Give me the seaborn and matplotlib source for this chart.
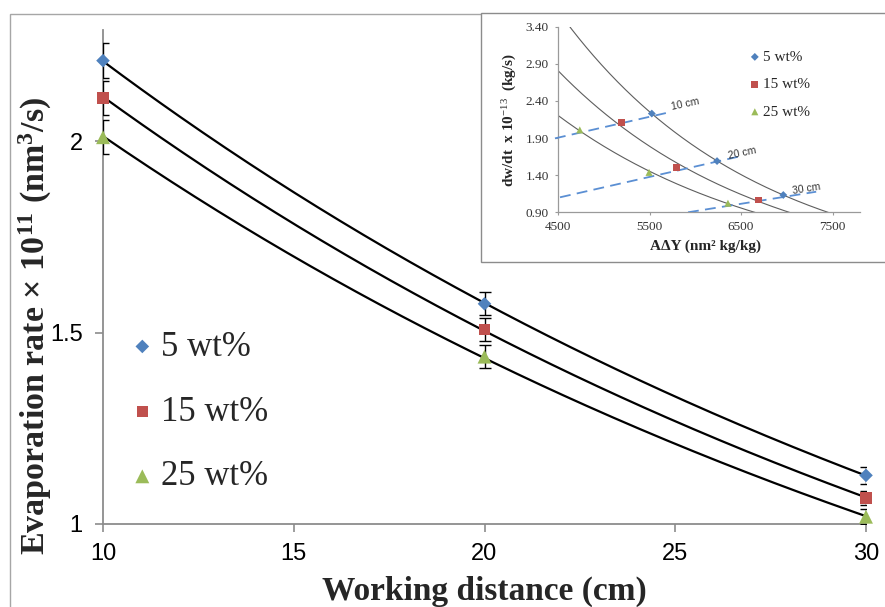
import numpy as np
import pandas as pd
import matplotlib
matplotlib.use("Agg")
import matplotlib.pyplot as plt
import seaborn as sns
from matplotlib.patches import Rectangle

# ---------------- data ----------------
series = ["5 wt%", "15 wt%", "25 wt%"]
colors = ["#4F81BD", "#C0504D", "#9BBB59"]
markers = ["D", "s", "^"]

distance = [10, 20, 30]
rate_5 = [2.21, 1.575, 1.127]
rate_15 = [2.113, 1.508, 1.068]
rate_25 = [2.01, 1.437, 1.019]
err_5 = [0.045, 0.03, 0.022]
err_15 = [0.045, 0.03, 0.018]
err_25 = [0.045, 0.03, 0.02]

x_ticks = [10, 15, 20, 25, 30]
y_ticks = [1, 1.5, 2]

# inset
inset_dY_5 = [5525, 6238, 6962]
inset_rate_5 = [2.23, 1.59, 1.133]
inset_dY_15 = [5192, 5793, 6690]
inset_rate_15 = [2.112, 1.50, 1.066]
inset_dY_25 = [4738, 5495, 6357]
inset_rate_25 = [2.01, 1.438, 1.022]

guide_labels = ["10 cm", "20 cm", "30 cm"]
guide_10_x = [4467, 5740]
guide_10_y = [1.896, 2.254]
guide_20_x = [4522, 6503]
guide_20_y = [1.102, 1.658]
guide_30_x = [5921, 7321]
guide_30_y = [0.90, 1.177]

inset_x_ticks = [4500, 5500, 6500, 7500]
inset_y_ticks = [0.90, 1.40, 1.90, 2.40, 2.90, 3.40]

# ---------------- style ----------------
sns.set_style("white")
plt.rcParams["font.family"] = ["Liberation Serif", "DejaVu Serif"]
plt.rcParams["mathtext.fontset"] = "custom"
plt.rcParams["mathtext.rm"] = "Liberation Serif"
plt.rcParams["mathtext.bf"] = "Liberation Serif:bold"
plt.rcParams["mathtext.it"] = "Liberation Serif:italic"

W, H = 885, 607
fig = plt.figure(figsize=(W / 100, H / 100), dpi=100)

# outer chart border
fig.patches.append(Rectangle((10 / W, -0.1), 1.2, 1 - 14 / H + 0.1,
                             transform=fig.transFigure, fill=False,
                             ec="#A6A6A6", lw=1.0, zorder=0))

# ---------------- main axes ----------------
ax = fig.add_axes([103 / W, 1 - 524 / H, 763 / W, 494 / H])
ax.set_facecolor("none")

rates = [rate_5, rate_15, rate_25]
errs = [err_5, err_15, err_25]
df = pd.DataFrame({
    "distance": np.tile(distance, 3),
    "rate": np.concatenate(rates),
    "series": np.repeat(series, 3),
})

# exponential trend lines (like the spreadsheet trendline)
xx = np.linspace(distance[0], distance[-1], 200)
for r in rates:
    b, a = np.polyfit(distance, np.log(r), 1)
    sns.lineplot(x=xx, y=np.exp(a + b * xx), ax=ax, color="black", lw=1.6,
                 zorder=2)

for r, e in zip(rates, errs):
    ax.errorbar(distance, r, yerr=e, fmt="none", ecolor="black",
                elinewidth=1.0, capsize=4.5, capthick=1.0, zorder=3)

sizes = {"5 wt%": 48, "15 wt%": 70, "25 wt%": 100}
for s, c, m in zip(series, colors, markers):
    sub = df[df.series == s]
    sns.scatterplot(data=sub, x="distance", y="rate", marker=m, color=c,
                    s=sizes[s], edgecolor="none", ax=ax, clip_on=False,
                    zorder=4, label=s)

ax.set_xlim(10, 30)
ax.set_ylim(1, 2.29)
ax.set_xticks(x_ticks)
ax.set_xticklabels([str(t) for t in x_ticks])
ax.set_yticks(y_ticks)
ax.set_yticklabels(["1", "1.5", "2"])
for sp in ["top", "right"]:
    ax.spines[sp].set_visible(False)
for sp in ["left", "bottom"]:
    ax.spines[sp].set_color("#8C8C8C")
    ax.spines[sp].set_linewidth(1.3)
ax.tick_params(axis="both", which="major", direction="out", length=5.5,
               width=1.2, color="#8C8C8C", labelsize=17, pad=9,
               labelcolor="black", left=True, bottom=True)
ax.tick_params(axis="x", pad=8)
for lab in ax.get_xticklabels() + ax.get_yticklabels():
    lab.set_fontfamily("Liberation Sans")

ax.set_xlabel("Working distance (cm)", fontsize=24, fontweight="bold")
ax.xaxis.set_label_coords(0.5, -0.105)
ax.set_ylabel(r"Evaporation rate × 10$^{\mathbf{11}}$ (nm$^{\mathbf{3}}$/s)",
              fontsize=24.5, fontweight="bold")
ax.yaxis.set_label_coords(-0.064, 0.40)

ax.legend(loc="center left", bbox_to_anchor=(0.151, 1 - 412 / H),
          bbox_transform=fig.transFigure, frameon=False,
          prop={"family": "Liberation Serif", "size": 25},
          handlelength=0.5, handletextpad=0.3, labelspacing=0.92,
          borderpad=0, borderaxespad=0)

# ---------------- inset ----------------
fig.patches.append(Rectangle((481 / W, 1 - 262 / H), 1.2, (262 - 13) / H,
                             transform=fig.transFigure, fc="white",
                             ec="#8C8C8C", lw=1.0, zorder=2))

ins = fig.add_axes([558 / W, 1 - 212.3 / H, 302 / W, 185.6 / H])
ins.set_zorder(3)
ins.set_facecolor("none")

ixx = np.linspace(4500, 7800, 300)
inset_x = [inset_dY_5, inset_dY_15, inset_dY_25]
inset_y = [inset_rate_5, inset_rate_15, inset_rate_25]
for xs, ys in zip(inset_x, inset_y):
    b, a = np.polyfit(xs, np.log(ys), 1)
    sns.lineplot(x=ixx, y=np.exp(a + b * ixx), ax=ins, color="#5E5E5E",
                 lw=0.8, zorder=2)

guides = [(guide_10_x, guide_10_y), (guide_20_x, guide_20_y),
          (guide_30_x, guide_30_y)]
for i, (gx, gy) in enumerate(guides):
    ins.plot(gx, gy, color="#5B8FD3", lw=1.3, ls=(0, (6, 3.5)),
             zorder=3, clip_on=(i != 0))

isizes = {"5 wt%": 16, "15 wt%": 24, "25 wt%": 26}
for s, c, m, xs, ys in zip(series, colors, markers, inset_x, inset_y):
    sns.scatterplot(x=xs, y=ys, marker=m, color=c, s=isizes[s],
                    edgecolor="none", ax=ins, clip_on=False, zorder=4,
                    label=s)

label_pos = [(5890, 2.36, 12), (6510, 1.70, 12), (7215, 1.215, 9)]
for txt, (tx, ty, rot) in zip(guide_labels, label_pos):
    ins.text(tx, ty, txt, fontsize=7.5, family="Liberation Sans",
             color="#333333", rotation=rot, ha="center", va="center",
             rotation_mode="anchor")

ins.set_xlim(4500, 7800)
ins.set_ylim(0.9, 3.4)
ins.set_xticks(inset_x_ticks)
ins.set_xticklabels([str(t) for t in inset_x_ticks])
ins.set_yticks(inset_y_ticks)
ins.set_yticklabels([f"{t:.2f}" for t in inset_y_ticks])
for sp in ["top", "right"]:
    ins.spines[sp].set_visible(False)
for sp in ["left", "bottom"]:
    ins.spines[sp].set_color("#9A9A9A")
    ins.spines[sp].set_linewidth(0.9)
ins.tick_params(axis="both", direction="out", length=2.5, width=0.8,
                color="#9A9A9A", labelsize=9.5, labelcolor="#333333", pad=4,
                left=True, bottom=True)

ins.set_xlabel("AΔY (nm² kg/kg)", fontsize=11, fontweight="bold")
ins.xaxis.set_label_coords(0.487, -0.145)
ins.set_ylabel(r"dw/dt  x 10$^{\mathrm{-13}}$  (kg/s)", fontsize=11,
               fontweight="bold")
ins.yaxis.set_label_coords(-0.13, 0.5)

ins.legend(loc="center left", bbox_to_anchor=(751 / W, 1 - 84.5 / H),
           bbox_transform=fig.transFigure, frameon=False,
           prop={"family": "Liberation Serif", "size": 11},
           handlelength=0.5, handletextpad=0.3, labelspacing=0.9,
           borderpad=0, borderaxespad=0)

fig.savefig("out.png", dpi=100)
